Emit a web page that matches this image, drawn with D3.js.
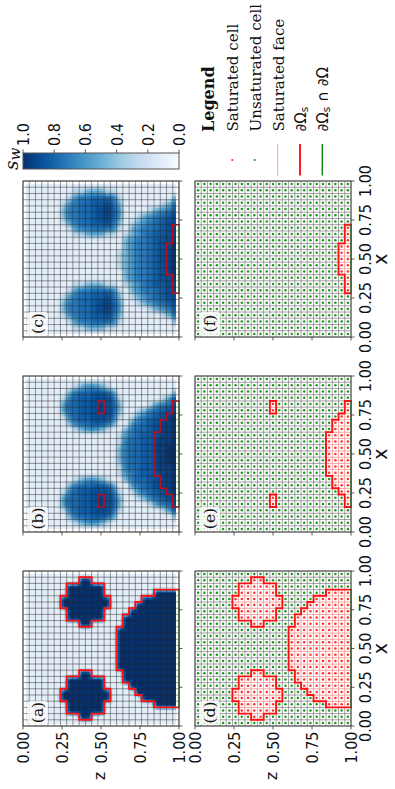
<!DOCTYPE html>
<html><head><meta charset="utf-8">
<style>html,body{margin:0;padding:0;background:#fff}svg{display:block}</style>
<script src="https://cdn.jsdelivr.net/npm/d3@7/dist/d3.min.js"></script>
</head><body><svg id="c" width="395" height="789"></svg>
<script>
const blues = ["#f7fbff","#deebf7","#c6dbef","#9ecae1","#6baed6","#4292c6","#2171b5","#08519c","#08306b"];
const tickLabels = ["0.00","0.25","0.50","0.75","1.00"];
const tickValues = [0,0.25,0.5,0.75,1];
const cbarTicks = [1,0.8,0.6,0.4,0.2,0];
const panelLetters = ["(a)","(b)","(c)","(d)","(e)","(f)"];
const legendItems = ["Saturated cell","Unsaturated cell","Saturated face"];
// saturation level per character (base 36 digit)
const swLevels = [0,0.1,0.3,0.5,0.62,0.72,0.78,0.84,0.89,0.94,1];
const N = 25;
// saturated cells: [z index, first x index, last x index]
const satA = [[6,4,5],[6,19,20],[7,2,7],[7,17,22],[8,2,7],[8,17,22],[9,1,8],[9,16,23],[10,1,8],[10,16,23],[11,2,7],[11,17,22],[12,2,7],[12,17,22],[13,4,5],[13,19,20],
 [15,9,15],[16,7,17],[17,6,18],[18,5,19],[19,4,20],[20,4,20],[21,3,21],[22,3,21],[23,3,21],[24,3,21]];
const satB = [[12,4,5],[12,19,20],[21,9,15],[22,7,17],[23,6,18],[24,4,20]];
const satC = [[23,10,14],[24,7,17]];
// s_w rows: z index 0..24, x index 0..24
const blank = "1111111111111111111111111";
const fieldB = [blank,blank,blank,blank,blank,blank,
"1112442111111111112442111",
"1135665311111111135665311",
"1256666521111111256666521",
"1367777631111111367777631",
"1467777641111111467777641",
"1478888741111111478888741",
"1378998731111111378998731",
"1268888621111111268888621",
"1146776411111111146776411",
"1112332112233322112332111",
"1111111134555554311111111",
"1111112455666665542111111",
"1111124566666666654211111",
"1111135667777777665311111",
"1111256777777777776521111",
"1111467888999998887641111",
"1112578999999999998752111",
"1114689999"+"9aaa99999864111",
"1137"+"99"+"aaaaaaaaaaaaa"+"99"+"73"+"11"];
const fieldC = [blank,blank,blank,blank,blank,blank,
"1112332111111111112332111",
"1124554211111111124554211",
"1245555421111111245555421",
"1256666521111111256666521",
"1356666531111111356666531",
"1367777631111111367777631",
"1367887631111111367887631",
"1268998621111111268998621",
"1256776521111111256776521",
"1123443211122211123443211",
"1111111123333333211111111",
"1111112334444444332111111",
"1111123445555555443211111",
"1111134555555555554311111",
"1111245566666666655421111",
"1111356677777777766531111",
"1112467778888888777642111",
"1113578888999998888753111",
"1136788"+"99"+"aaaaaaa"+"9988763"+"11"].map(r=>r.slice(0,25));
const fieldA = d3.range(N).map(i => d3.range(N).map(j =>
  satA.some(s => s[0]===i && j>=s[1] && j<=s[2]) ? "a" : "1").join(""));

const svg = d3.select("#c");
const sans = "'DejaVu Sans'", serif = "'DejaVu Serif'";
const color = d3.scaleLinear().domain(blues.map((_,i)=>i/(blues.length-1))).range(blues).interpolate(d3.interpolateRgb);
const txt = (g,s,sx,sy,o={}) => g.append("text").text(s)
  .attr("transform",`translate(${sx},${sy}) rotate(-90)`+(o.stretch?` scale(1,${o.stretch})`:""))
  .attr("text-anchor",o.anchor||"middle").attr("font-family",o.family||sans)
  .attr("font-size",o.size||14.4).attr("font-style",o.style||null).attr("font-weight",o.weight||null)
  .attr("fill","#111");

const rows = [[23,179],[195,351]];
const cols = [[726,571],[532,376],[337,181]];
const sats = [satA,satB,satC];
const fields = [fieldA,fieldB,fieldC];

function grid(g,sz,sxs,color,w,op){
  const L = d3.range(N+1).map(d=>d/N);
  g.append("g").selectAll("line").data(L).join("line")
   .attr("x1",d=>sz(d)).attr("x2",d=>sz(d)).attr("y1",sxs(0)).attr("y2",sxs(1));
  g.append("g").selectAll("line").data(L).join("line")
   .attr("y1",d=>sxs(d)).attr("y2",d=>sxs(d)).attr("x1",sz(0)).attr("x2",sz(1));
  g.selectAll("line").attr("stroke",color).attr("stroke-width",w).attr("stroke-opacity",op);
}
function isSat(sat,i,j){return sat.some(s=>s[0]===i&&j>=s[1]&&j<=s[2]);}
function boundary(sat,sz,sx){
  let d="",g="";
  const dz=1/N;
  for(let i=0;i<N;i++)for(let j=0;j<N;j++){
    if(!isSat(sat,i,j))continue;
    const z0=sz(i*dz),z1=sz((i+1)*dz),x0=sx(j*dz),x1=sx((j+1)*dz);
    if(!isSat(sat,i-1,j))d+=`M${z0},${x0}L${z0},${x1}`;
    if(i===N-1)g+=`M${z1},${x0}L${z1},${x1}`;
    else if(!isSat(sat,i+1,j))d+=`M${z1},${x0}L${z1},${x1}`;
    if(!isSat(sat,i,j-1))d+=`M${z0},${x0}L${z1},${x0}`;
    if(!isSat(sat,i,j+1))d+=`M${z0},${x1}L${z1},${x1}`;
  }
  return {d,g};
}
function frame(g,sz,sx,r,c,k){
  g.append("rect").attr("x",sz(0)).attr("y",sx(1)).attr("width",sz(1)-sz(0)).attr("height",sx(0)-sx(1))
   .attr("fill","none").attr("stroke","#4a4a4a").attr("stroke-width",1);
  const tk=g.append("g").attr("stroke","#333").attr("stroke-width",.8);
  tk.selectAll(".a").data(tickValues).join("line").attr("x1",d=>sz(d)).attr("x2",d=>sz(d)).attr("y1",sx(0)).attr("y2",sx(0)+3.5);
  tk.selectAll(".b").data(tickValues).join("line").attr("y1",d=>sx(d)).attr("y2",d=>sx(d)).attr("x1",sz(1)).attr("x2",sz(1)+3.5);
  if(c===0){
    tickValues.forEach((v,n)=>txt(g,tickLabels[n],sz(v)+6,sx(0)+5.5,{anchor:"end",stretch:1.1}));
    txt(g,"z",sz(.5)+4,776,{family:sans,size:16});
  }
  if(r===1){
    tickValues.forEach((v,n)=>txt(g,tickLabels[n],sz(1)+19.5,sx(v),{stretch:1.1}));
    txt(g,"x",387,sx(.5),{family:sans,size:19});
  }
  const bx=sz(0)+4.5, by=sx(0)-25;
  g.append("rect").attr("x",bx).attr("y",by).attr("width",20.5).attr("height",24).attr("rx",3)
   .attr("fill","#fff").attr("fill-opacity",.8);
  txt(g,panelLetters[k],sz(0)+20,sx(0)-13.5,{family:serif,size:15.5});
}
// top row: field; bottom row: cell states
cols.forEach((col,c)=>{
  const sz=d3.scaleLinear().domain([0,1]).range(rows[0]);
  const sx=d3.scaleLinear().domain([0,1]).range(col);
  const g=svg.append("g");
  const cells=[], sub=4, F=fields[c];
  const val=(i,j)=>swLevels[parseInt(F[i][j],36)];
  for(let i=0;i<N-1;i++)for(let j=0;j<N-1;j++)for(let a=0;a<sub;a++)for(let b=0;b<sub;b++){
    const u=(a+.5)/sub,v=(b+.5)/sub;
    const s=(1-u)*(1-v)*val(i,j)+u*(1-v)*val(i+1,j)+(1-u)*v*val(i,j+1)+u*v*val(i+1,j+1);
    cells.push({z:(i+.5+a/sub)/N,x:(j+.5+b/sub)/N,s});
  }
  const dz=1/N/sub;
  g.append("g").attr("shape-rendering","crispEdges").selectAll("rect").data(cells).join("rect")
   .attr("x",d=>sz(d.z)).attr("y",d=>sx(d.x+dz))
   .attr("width",sz(dz)-sz(0)+.6).attr("height",sx(0)-sx(dz)+.6)
   .attr("fill",d=>color(d.s));
  grid(g.append("g"),sz,sx,"#222",.65,.7);
  const bd=boundary(sats[c],sz,sx);
  g.append("path").attr("d",bd.d).attr("fill","none").attr("stroke",c===0?"#ff1010":"#b80f1f").attr("stroke-width",c===0?1.9:1.6).attr("stroke-linecap","square");
  g.append("path").attr("d",bd.g).attr("fill","none").attr("stroke","#0a860a").attr("stroke-width",1.4);
  frame(g,sz,sx,0,c,c);
});
cols.forEach((col,c)=>{
  const sz=d3.scaleLinear().domain([0,1]).range(rows[1]);
  const sx=d3.scaleLinear().domain([0,1]).range(col);
  const g=svg.append("g");
  grid(g.append("g"),sz,sx,"#666",.7,.85);
  const sat=sats[c], cc=[];
  for(let i=0;i<N;i++)for(let j=0;j<N;j++)cc.push({i,j,s:isSat(sat,i,j)});
  const faces=cc.filter(d=>d.s);
  g.append("g").selectAll("rect").data(faces).join("rect")
   .attr("x",d=>sz(d.i/N)).attr("y",d=>sx((d.j+1)/N))
   .attr("width",sz(1/N)-sz(0)).attr("height",sx(0)-sx(1/N))
   .attr("fill","#fff").attr("stroke","#ff9a9a").attr("stroke-width",.7);
  g.append("g").selectAll("circle").data(cc).join("circle")
   .attr("cx",d=>sz((d.i+.5)/N)).attr("cy",d=>sx((d.j+.5)/N)).attr("r",1.25)
   .attr("fill",d=>d.s?"#ff3030":"#1f961f");
  const bd=boundary(sat,sz,sx);
  g.append("path").attr("d",bd.d).attr("fill","none").attr("stroke","#ff1010").attr("stroke-width",1.9).attr("stroke-linecap","square");
  g.append("path").attr("d",bd.g).attr("fill","none").attr("stroke","#0a860a").attr("stroke-width",1.4);
  frame(g,sz,sx,1,c,c+3);
});
// colour bar
const cbScale=d3.scaleLinear().domain([1,0]).range([23,179]);
const defs=svg.append("defs");
const lg=defs.append("linearGradient").attr("id","cb").attr("x1",0).attr("x2",1).attr("y1",0).attr("y2",0);
lg.selectAll("stop").data(blues.slice().reverse()).join("stop").attr("offset",(d,i)=>i/(blues.length-1)).attr("stop-color",d=>d);
svg.append("rect").attr("x",23).attr("y",153).attr("width",156).attr("height",16).attr("fill","url(#cb)").attr("stroke","#555").attr("stroke-width",1);
const cg=svg.append("g");
cg.selectAll("line").data(cbarTicks).join("line").attr("x1",d=>cbScale(d)).attr("x2",d=>cbScale(d)).attr("y1",153).attr("y2",149.5).attr("stroke","#333").attr("stroke-width",.8);
cbarTicks.forEach(v=>txt(cg,v.toFixed(1),cbScale(v)+6,146,{anchor:"start",stretch:1.1}));
const sw=txt(svg,"s",17.5,170,{family:serif,style:"italic",size:18.5,anchor:"start"});
sw.append("tspan").text("w").attr("font-size",15).attr("dy",2);
// legend
const lgG=svg.append("g");
txt(lgG,"Legend",214,132,{family:serif,weight:"bold",size:16,anchor:"start"});
const lx=[237.7,261,284];
legendItems.forEach((t,i)=>txt(lgG,t,lx[i],131.5,{family:serif,size:15.1,anchor:"start"}));
const m1=txt(lgG,"",306,131.5,{size:15,anchor:"start"});
m1.append("tspan").text("∂Ω"); m1.append("tspan").text("s").attr("font-size",10.5).attr("dy",2);
const m2=txt(lgG,"",328,131.5,{size:15,anchor:"start"});
m2.append("tspan").text("∂Ω"); m2.append("tspan").text("s").attr("font-size",10.5).attr("dy",2); m2.append("tspan").text(" ∩ ∂Ω").attr("dy",-2);
lgG.append("circle").attr("cx",232.3).attr("cy",160).attr("r",1.1).attr("fill","#ff3030");
lgG.append("circle").attr("cx",254.7).attr("cy",160).attr("r",1.1).attr("fill","#1f961f");
[[277.7,"#ffa0a0",1],[300,"#ff1010",1.9],[322.3,"#0a860a",1.4]].forEach(a=>
  lgG.append("line").attr("x1",a[0]).attr("x2",a[0]).attr("y1",144).attr("y2",175.5).attr("stroke",a[1]).attr("stroke-width",a[2]));
</script></body></html>
